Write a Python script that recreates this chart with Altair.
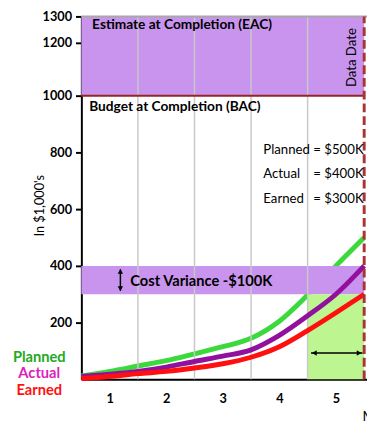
import altair as alt
import pandas as pd

# ---- data ----
months = [0.5, 1.0, 1.5, 2.0, 2.5, 3.0, 3.5, 4.0, 4.5, 5.0, 5.5]
planned = [12, 28, 47, 66, 90, 115, 145, 205, 297, 400, 500]
actual = [10, 18, 28, 43, 63, 82, 104, 155, 224, 300, 400]
earned = [3, 10, 20, 28, 40, 55, 78, 115, 172, 235, 300]

month_ticks = [1, 2, 3, 4, 5]
grid_months = [1.5, 2.5, 3.5, 4.5]
y_ticks = [200, 400, 600, 800, 1000, 1200, 1300]

data_date = 5.5
bac = 1000
eac = 1300
cv_low, cv_high = 300, 400

series_names = ["Planned", "Actual", "Earned"]
series_values = ["= $500K", "= $400K", "= $300K"]

FONT = "Lato"
xs = alt.Scale(domain=[0.5, 5.55], nice=False, zero=False)
ys = alt.Scale(domain=[0, 1000, 1300], range=[371, 81, 0], nice=False, zero=False)


def X(field):
    return alt.X(f"{field}:Q", scale=xs)


def Y(field):
    return alt.Y(f"{field}:Q", scale=ys)


x_axis = alt.Axis(values=month_ticks, format="d", ticks=False, grid=False, labelFont=FONT,
                  labelFontSize=13, labelFontWeight="bold", labelColor="black",
                  labelPadding=14, domainColor="black", domainWidth=2,
                  titleX=287, titleY=38, titleAlign="left",
                  titleBaseline="middle", titleFont=FONT, titleFontSize=14,
                  titleFontWeight="normal", titleColor="black")
y_axis = alt.Axis(values=y_ticks, format="d", grid=False, tickSize=6, tickWidth=2,
                  tickColor="black", labelPadding=4, labelFont=FONT,
                  labelFontSize=13, labelFontWeight="bold", labelColor="black",
                  labelOverlap=False, domainColor="black", domainWidth=2,
                  titleX=-43, titleY=193, titleAngle=270,
                  titleAlign="center", titleBaseline="middle", titleFont=FONT,
                  titleFontSize=13, titleFontWeight="normal", titleColor="black")

# planned line (drawn under the bands)
df_p = pd.DataFrame({"m": months, "v": planned})
green_line = alt.Chart(df_p).mark_line(
    color="#3BD93B", strokeWidth=5, interpolate="monotone"
).encode(x=alt.X("m:Q", scale=xs, axis=x_axis, title="Month"),
         y=alt.Y("v:Q", scale=ys, axis=y_axis, title="In $1,000's"))

# bands
df_eac = pd.DataFrame({"x0": [0.5], "x1": [data_date], "y0": [bac], "y1": [eac]})
eac_band = alt.Chart(df_eac).mark_rect(color="#C894EE").encode(
    x=X("x0"), x2="x1", y=Y("y0"), y2="y1")
df_cv = pd.DataFrame({"x0": [0.5], "x1": [data_date], "y0": [cv_low], "y1": [cv_high]})
cv_band = alt.Chart(df_cv).mark_rect(color="#C894EE").encode(
    x=X("x0"), x2="x1", y=Y("y0"), y2="y1")
df_gb = pd.DataFrame({"x0": [4.5], "x1": [data_date], "y0": [0], "y1": [cv_low]})
green_box = alt.Chart(df_gb).mark_rect(color="#BDF591").encode(
    x=X("x0"), x2="x1", y=Y("y0"), y2="y1")

# grid lines
df_grid = pd.DataFrame({"m": grid_months, "y0": [0] * 4, "y1": [eac] * 4})
grid = alt.Chart(df_grid).mark_rule(color="#C8C8C8", strokeWidth=1.5).encode(
    x=X("m"), y=Y("y0"), y2="y1")

# actual & earned lines
df_a = pd.DataFrame({"m": months, "v": actual})
actual_line = alt.Chart(df_a).mark_line(
    color="#92109E", strokeWidth=5, interpolate="monotone").encode(x=X("m"), y=Y("v"))
df_e = pd.DataFrame({"m": months, "v": earned})
earned_line = alt.Chart(df_e).mark_line(
    color="#FF1010", strokeWidth=5, interpolate="monotone").encode(x=X("m"), y=Y("v"))

# borders
df_top = pd.DataFrame({"x0": [0.5], "x1": [5.55], "y": [eac]})
top_rule = alt.Chart(df_top).mark_rule(color="#A8A8A8", strokeWidth=2).encode(
    x=X("x0"), x2="x1", y=Y("y"))
df_bac = pd.DataFrame({"x0": [0.5], "x1": [data_date], "y": [bac]})
bac_rule = alt.Chart(df_bac).mark_rule(color="#992222", strokeWidth=2).encode(
    x=X("x0"), x2="x1", y=Y("y"))
df_dd = pd.DataFrame({"m": [data_date], "y0": [0], "y1": [eac]})
dd_rule = alt.Chart(df_dd).mark_rule(color="#AA3333", strokeWidth=3,
                                     strokeDash=[9, 4]).encode(
    x=X("m"), y=Y("y0"), y2="y1")


# texts
def text_layer(df, **kw):
    return alt.Chart(df).mark_text(font=FONT, baseline="middle", **kw).encode(
        x=X("m"), y=Y("v"), text="t:N")


t_eac = text_layer(pd.DataFrame({"m": [0.69], "v": [1267], "t": ["Estimate at Completion (EAC)"]}),
                   align="left", fontSize=14, fontWeight="bold", color="black")
t_bac = text_layer(pd.DataFrame({"m": [0.638], "v": [959], "t": ["Budget at Completion (BAC)"]}),
                   align="left", fontSize=14, fontWeight="bold", color="black")
t_dd = text_layer(pd.DataFrame({"m": [5.29], "v": [1144], "t": ["Data Date"]}),
                  align="center", angle=270, fontSize=13.5, color="black")
t_cv = text_layer(pd.DataFrame({"m": [1.365], "v": [347], "t": ["Cost Variance -$100K"]}),
                  align="left", fontSize=15, fontWeight="bold", color="black")
t_names = text_layer(pd.DataFrame({"m": [3.717] * 3, "v": [807, 724, 634], "t": series_names}),
                     align="left", fontSize=13.5, color="black")
t_vals = text_layer(pd.DataFrame({"m": [4.6] * 3, "v": [807, 724, 634], "t": series_values}),
                    align="left", fontSize=13.5, color="black")
df_leg = pd.DataFrame({"m": [-0.244] * 3, "v": [79, 21, -38], "t": series_names})
t_leg = alt.Chart(df_leg).mark_text(font=FONT, baseline="middle", align="center",
                                    fontSize=15, fontWeight="bold").encode(
    x=X("m"), y=Y("v"), text="t:N",
    color=alt.Color("t:N", scale=alt.Scale(domain=series_names,
                                           range=["#22AA22", "#DD22BB", "#FF1111"]),
                    legend=None))

# arrows
df_va = pd.DataFrame({"m": [1.19], "y0": [312], "y1": [388]})
v_arrow = alt.Chart(df_va).mark_rule(color="black", strokeWidth=1.5).encode(
    x=X("m"), y=Y("y0"), y2="y1")
v_up = alt.Chart(pd.DataFrame({"m": [1.19], "v": [380]})).mark_point(
    shape="triangle-up", filled=True, size=30, color="black", opacity=1).encode(x=X("m"), y=Y("v"))
v_dn = alt.Chart(pd.DataFrame({"m": [1.19], "v": [320]})).mark_point(
    shape="triangle-down", filled=True, size=30, color="black", opacity=1).encode(x=X("m"), y=Y("v"))
df_ha = pd.DataFrame({"x0": [4.56], "x1": [5.47], "v": [93]})
h_arrow = alt.Chart(df_ha).mark_rule(color="black", strokeWidth=1.5).encode(
    x=X("x0"), x2="x1", y=Y("v"))
h_l = alt.Chart(pd.DataFrame({"m": [4.62], "v": [93]})).mark_point(
    shape="triangle-left", filled=True, size=30, color="black", opacity=1).encode(x=X("m"), y=Y("v"))
h_r = alt.Chart(pd.DataFrame({"m": [5.41], "v": [93]})).mark_point(
    shape="triangle-right", filled=True, size=30, color="black", opacity=1).encode(x=X("m"), y=Y("v"))

chart = alt.layer(
    green_line, eac_band, cv_band, green_box, grid, actual_line, earned_line,
    top_rule, bac_rule, dd_rule,
    t_eac, t_bac, t_dd, t_cv, t_names, t_vals, t_leg,
    v_arrow, v_up, v_dn, h_arrow, h_l, h_r,
).properties(
    width=292, height=371,
    autosize=alt.AutoSizeParams(type="none"),
    padding={"left": 75, "top": 4, "right": 0, "bottom": 40},
    background="white",
).configure_view(stroke=None)

chart.save("out.html", embed_options={"renderer": "svg", "actions": False})
